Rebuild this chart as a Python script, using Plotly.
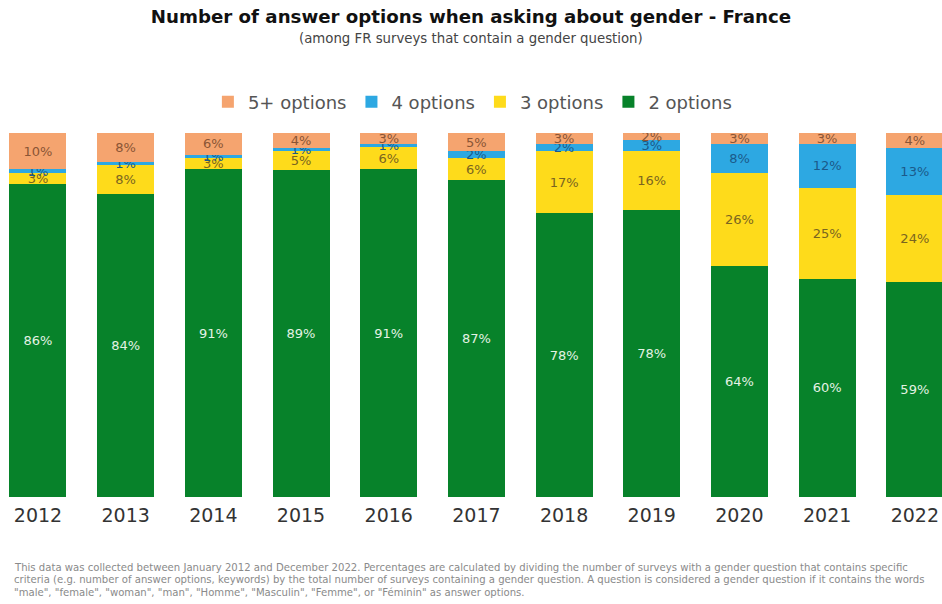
import plotly.graph_objects as go

years = ["2012", "2013", "2014", "2015", "2016", "2017", "2018", "2019", "2020", "2021", "2022"]

# Share of surveys (%) by number of gender answer options
two_options = [86, 84, 91, 89, 91, 87, 78, 78, 64, 60, 59]
three_options = [3, 8, 3, 5, 6, 6, 17, 16, 26, 25, 24]
four_options = [1, 1, 1, 1, 1, 2, 2, 3, 8, 12, 13]
five_plus_options = [10, 8, 6, 4, 3, 5, 3, 2, 3, 3, 4]

footnote_lines = [
    "This data was collected between January 2012 and December 2022. Percentages are calculated by dividing the number of surveys with a gender question that contains specific",
    "criteria (e.g. number of answer options, keywords) by the total number of surveys containing a gender question. A question is considered a gender question if it contains the words",
    "\"male\", \"female\", \"woman\", \"man\", \"Homme\", \"Masculin\", \"Femme\", or \"Féminin\" as answer options.",
]

series = [
    ("2 options", two_options, "#07822A", "#E4F2E4"),
    ("3 options", three_options, "#FEDB1B", "#7A6520"),
    ("4 options", four_options, "#2DA8E2", "#1B5A8A"),
    ("5+ options", five_plus_options, "#F5A46F", "#8A5535"),
]

PLOT_TOP, PLOT_BOTTOM = 133, 497
PLOT_H = PLOT_BOTTOM - PLOT_TOP


def py(pixel_y):
    """Paper y coordinate for a pixel row of the page."""
    return (PLOT_BOTTOM - pixel_y) / PLOT_H


fig = go.Figure()
for name, vals, color, txtcolor in series:
    fig.add_trace(go.Bar(
        name=name,
        x=years,
        y=vals,
        marker=dict(color=color, line=dict(width=0)),
        text=[f"{v}%" for v in vals],
        textposition="inside",
        insidetextanchor="middle",
        constraintext="none",
        textfont=dict(family="DejaVu Sans", size=13, color=txtcolor),
        hoverinfo="skip",
    ))

annotations = [
    dict(
        text="(among FR surveys that contain a gender question)",
        xref="paper", yref="paper",
        x=0.5, y=py(38), xanchor="center", yanchor="middle",
        showarrow=False,
        font=dict(family="DejaVu Sans", size=13.3, color="#444444"),
    )
]
for i, line in enumerate(footnote_lines):
    annotations.append(dict(
        text=line,
        xref="paper", yref="paper",
        x=12 / 942, y=py(567 + 12.5 * i), xanchor="left", yanchor="middle",
        align="left",
        showarrow=False,
        font=dict(family="DejaVu Sans", size=10.1, color="#8A8A8A"),
    ))

fig.update_layout(
    width=942,
    height=604,
    barmode="stack",
    barnorm="percent",
    bargap=0.35,
    margin=dict(l=0, r=0, t=PLOT_TOP, b=604 - PLOT_BOTTOM),
    paper_bgcolor="white",
    plot_bgcolor="white",
    uniformtext=dict(minsize=13, mode="show"),
    title=dict(
        text="<b>Number of answer options when asking about gender - France</b>",
        x=0.5, xanchor="center",
        yref="container", y=1 - 17 / 604, yanchor="middle",
        font=dict(family="DejaVu Sans", size=18.2, color="#111111"),
    ),
    legend=dict(
        orientation="h",
        traceorder="reversed",
        x=0.502, xanchor="center",
        y=py(102), yanchor="middle",
        font=dict(family="DejaVu Sans", size=18, color="#555555"),
        itemsizing="constant",
    ),
    xaxis=dict(
        type="category",
        range=[-0.433, 10.31],
        showgrid=False,
        showline=False,
        ticks="",
        ticklabelstandoff=5,
        tickfont=dict(family="DejaVu Sans", size=19, color="#333333"),
    ),
    yaxis=dict(range=[0, 100], visible=False),
    annotations=annotations,
)

fig.write_html("out.html")
